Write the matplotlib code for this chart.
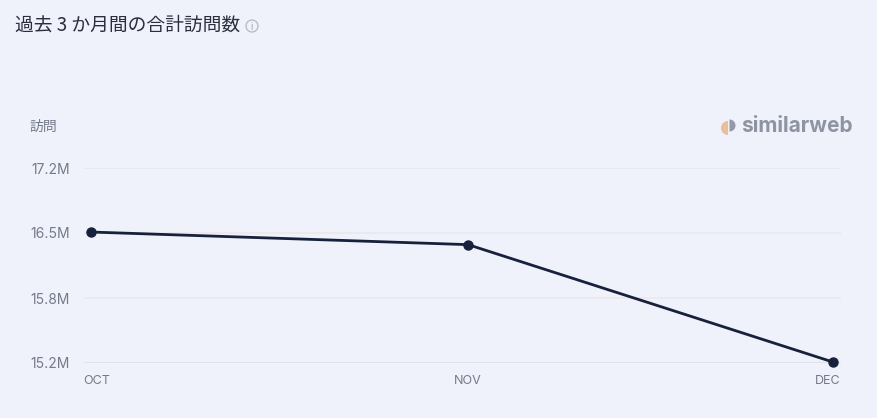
import numpy as np
import matplotlib.pyplot as plt
from matplotlib.patches import Wedge, Circle

plt.rcParams['font.family'] = ['Inter', 'Noto Sans CJK JP', 'DejaVu Sans']

# data
months = ["OCT", "NOV", "DEC"]
day_offsets = [0, 31, 61]
visits = [16.52, 16.39, 15.18]  # millions
y_ticks = [15.17, 15.84, 16.51, 17.18]
y_labels = ["15.2M", "15.8M", "16.5M", "17.2M"]

bg = "#eff2fb"
line_col = "#17213b"
text_col = "#747a88"

fig = plt.figure(figsize=(8.77, 4.18), dpi=100, facecolor=bg)
ax = fig.add_axes([84 / 877, 1 - 363 / 418, (841 - 84) / 877, (363 - 168) / 418])
ax.set_facecolor(bg)

ax.set_xlim(-0.576, 61.66)
ax.set_ylim(y_ticks[0], y_ticks[-1])

grid_cols = ["#dcdfea", "#ece6ea", "#ece6ea", "#ece6ea"]
for yt, gc in zip(y_ticks, grid_cols):
    ax.axhline(yt, color=gc, lw=1.2, zorder=1)

ax.plot(day_offsets, visits, color=line_col, lw=2, marker="o", ms=6.5,
        zorder=3, clip_on=False)

for s in ax.spines.values():
    s.set_visible(False)
ax.set_xticks([])
ax.set_yticks(y_ticks)
ax.set_yticklabels(y_labels, fontsize=10, color=text_col)
ax.tick_params(axis="y", length=0, pad=10)

aligns = ["left", "center", "right"]
xpos = [-0.65, day_offsets[1], 61.6]
for m, xp, ha in zip(months, xpos, aligns):
    ax.text(xp, -0.09, m, transform=ax.get_xaxis_transform(), ha=ha, va="center",
            fontsize=9, color=text_col)

# overlay in pixel coordinates for the decorations
ov = fig.add_axes([0, 0, 1, 1], facecolor="none")
ov.set_xlim(0, 877)
ov.set_ylim(418, 0)
ov.axis("off")

ov.text(15, 25, "過去 3 か月間の合計訪問数", fontsize=13.5,
        color="#2a2e3d", ha="left", va="center",
        family=['Noto Sans CJK JP', 'DejaVu Sans'])
# info icon
ov.add_patch(Circle((252, 26), 6, fill=False, ec="#b4b8c2", lw=0.9))
ov.text(252, 26.5, "i", fontsize=7, color="#a0a4b0", ha="center", va="center")

ov.text(29, 127, "訪問", fontsize=10, color=text_col, ha="left",
        va="center", family=['Noto Sans CJK JP', 'DejaVu Sans'])

# similarweb logo
ov.add_patch(Wedge((728, 128), 7, 90, 270, fc="#ebbf98", ec="none"))
ov.add_patch(Wedge((729.5, 125.5), 6, -90, 90, fc="#9399a6", ec="none"))
ov.text(741, 126, "similarweb", fontsize=15, fontweight="bold",
        color="#8e94a2", ha="left", va="center")

fig.savefig("out.png", dpi=100, facecolor=bg)
